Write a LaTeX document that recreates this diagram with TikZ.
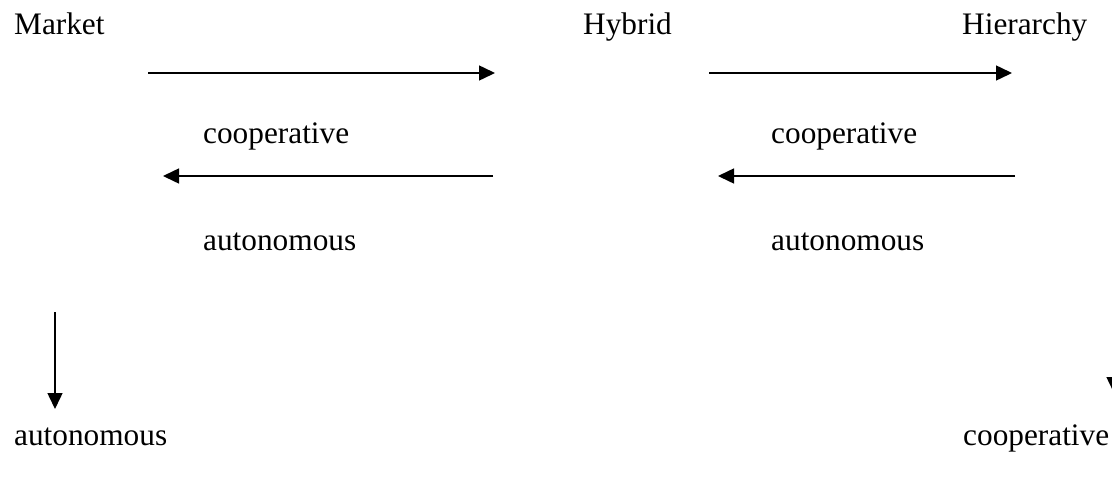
\documentclass[tikz,border=0pt]{standalone}
\usepackage{fontspec}
\setmainfont{Liberation Serif}
\usetikzlibrary{arrows.meta}
\begin{document}
\begin{tikzpicture}[x=1pt,y=-1pt,
  lbl/.style={anchor=base west,inner sep=0pt,font=\fontsize{31.3}{37}\selectfont},
  conn/.style={line width=1.5pt,-{Triangle[length=16pt,width=15pt]}}]
\useasboundingbox (0,0) rectangle (1112,477);
\node[lbl] (market) at (14,34) {Market};
\node[lbl] (hybrid) at (583,34) {Hybrid};
\node[lbl] (hier) at (962,34) {Hierarchy};
\node[lbl] (coop1) at (203,143) {cooperative};
\node[lbl] (coop2) at (771,143) {cooperative};
\node[lbl] (auto1) at (203,250) {autonomous};
\node[lbl] (auto2) at (771,250) {autonomous};
\node[lbl] (auto3) at (14,445) {autonomous};
\node[lbl] (coop3) at (963,445) {cooperative};
\coordinate (a1s) at (148,73); \coordinate (a1e) at (495,73);
\coordinate (a2s) at (709,73); \coordinate (a2e) at (1012,73);
\coordinate (a3s) at (493,176); \coordinate (a3e) at (163,176);
\coordinate (a4s) at (1015,176); \coordinate (a4e) at (718,176);
\coordinate (a5s) at (55,312); \coordinate (a5e) at (55,409);
\coordinate (a6s) at (1114,300); \coordinate (a6e) at (1114,393);
\draw[conn] (a1s) -- (a1e);
\draw[conn] (a2s) -- (a2e);
\draw[conn] (a3s) -- (a3e);
\draw[conn] (a4s) -- (a4e);
\draw[conn] (a5s) -- (a5e);
\draw[conn] (a6s) -- (a6e);
\end{tikzpicture}
\end{document}
